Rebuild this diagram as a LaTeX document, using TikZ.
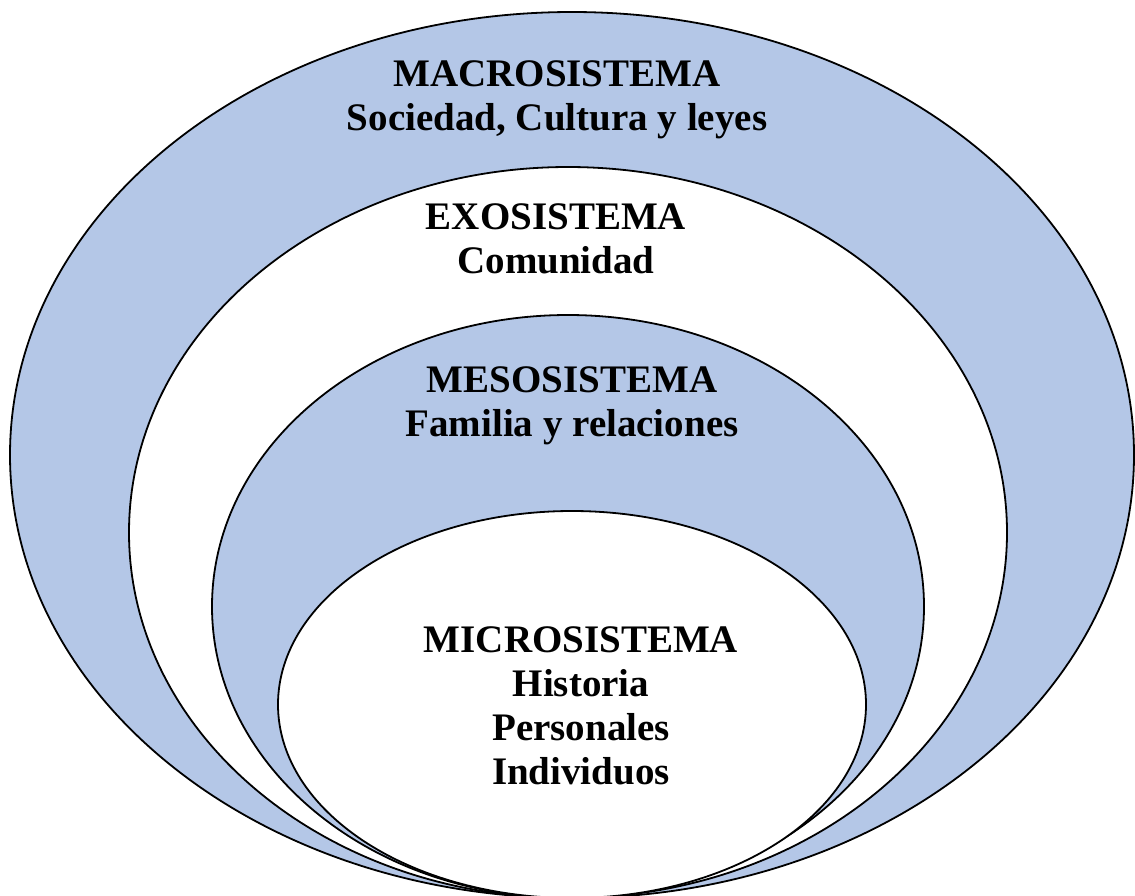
\documentclass[tikz,border=0pt]{standalone}
\usepackage{fontspec}
\setmainfont{Liberation Serif}
\usepackage{tikz}
\usetikzlibrary{positioning}
\definecolor{azulclaro}{HTML}{B4C7E7}
\tikzset{
    %Define style for the rings
    anillo/.style={
           draw=black,
           line width=1.8pt},
    azul/.style={anillo, fill=azulclaro},
    blanco/.style={anillo, fill=white},
    %Define style for the labels
    rotulo/.style={
           align=center,
           inner sep=0pt,
           font=\bfseries\fontsize{39}{44}\selectfont}
}
\begin{document}
\begin{tikzpicture}[x=1pt,y=-1pt]
\useasboundingbox (0,0) rectangle (1135,895);
\fill[white] (0,0) rectangle (1135,895);
% rings, from outside to inside
\draw[azul] (572,455) ellipse [x radius=562, y radius=443];
\draw[blanco] (568,532.5) ellipse [x radius=439, y radius=365.5];
\draw[azul] (568,606.5) ellipse [x radius=356, y radius=291.5];
\draw[blanco] (572,704.5) ellipse [x radius=294, y radius=193.5];
% labels
\node[rotulo] (macro) at (557,100) {MACROSISTEMA\\Sociedad, Cultura y leyes};
\node[rotulo] (exo) at (556,239) {EXOSISTEMA\\Comunidad};
\node[rotulo] (meso) at (572,406) {MESOSISTEMA\\Familia y relaciones};
\node[rotulo] (micro) at (581,706) {MICROSISTEMA\\Historia\\Personales\\Individuos};
\end{tikzpicture}
\end{document}
